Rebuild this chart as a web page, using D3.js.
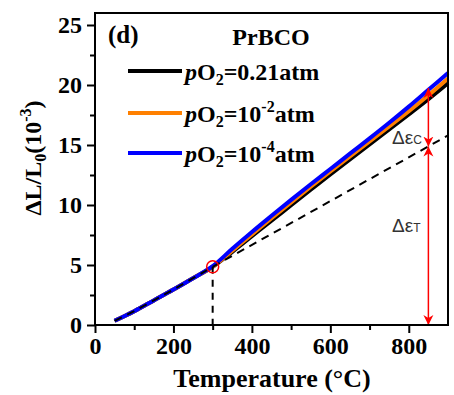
<!DOCTYPE html>
<html><head><meta charset="utf-8">
<script src="https://cdn.jsdelivr.net/npm/d3@7"></script>
<style>body{margin:0;background:#fff}svg{display:block}</style>
</head><body>
<script>
const temps = [50,100,150,200,250,300,350,400,450,500,550,600,650,700,750,800,850,900];
const black = [0.35,1.15,2.05,2.95,3.9,4.85,6.1,7.4,8.7,9.98,11.27,12.55,13.8,15.05,16.3,17.55,18.82,20.15];
const orange = [0.35,1.15,2.05,2.95,3.9,4.85,6.2,7.55,8.9,10.22,11.52,12.8,14.05,15.3,16.55,17.82,19.15,20.55];
const blue = [0.35,1.15,2.05,2.95,3.9,4.9,6.35,7.75,9.1,10.43,11.73,13.0,14.28,15.55,16.85,18.2,19.6,21.0];
const dashT = [50,100,150,200,250,300,900];
const dashV = [0.35,1.15,2.05,2.95,3.9,4.85,15.8];
const xTicks = [0,200,400,600,800];
const yTicks = [0,5,10,15,20,25];
const legendLabels = ["0.21", "10", "10"];
const legendSup = ["", "-2", "-4"];
const onsetT = 300, onsetV = 4.85;
const arrowT = 850, arrowTop = 19.75, arrowMid = 14.87;

const W = 454, H = 395;
const svg = d3.select("body").append("svg").attr("width", W).attr("height", H);
const x = d3.scaleLinear().domain([0,900]).range([95,448]);
const y = d3.scaleLinear().domain([0,26]).range([325,13]);
const serif = "'Liberation Serif','Times New Roman',serif";

const xAxis = d3.axisBottom(x).tickValues(xTicks).tickSize(8).tickPadding(4).tickFormat(d3.format("d"));
const xMinor = d3.axisBottom(x).tickValues([100,300,500,700]).tickSize(5).tickFormat("");
const yAxis = d3.axisLeft(y).tickValues(yTicks).tickSize(8).tickPadding(5).tickFormat(d3.format("d"));
const yMinor = d3.axisLeft(y).tickValues([2.5,7.5,12.5,17.5,22.5]).tickSize(5).tickFormat("");

function styleAxis(g){
  g.select(".domain").remove();
  g.selectAll("line").attr("stroke","#000").attr("stroke-width",2);
  g.selectAll("text").attr("font-family",serif).attr("font-weight","bold").attr("font-size",24).attr("fill","#000");
}
svg.append("g").attr("transform","translate(0,325)").call(xAxis).call(styleAxis);
svg.append("g").attr("transform","translate(0,325)").call(xMinor).call(styleAxis);
svg.append("g").attr("transform","translate(95,0)").call(yAxis).call(styleAxis);
svg.append("g").attr("transform","translate(95,0)").call(yMinor).call(styleAxis);

const line = d3.line().x(d=>x(d[0])).y(d=>y(d[1])).curve(d3.curveMonotoneX);
const straight = d3.line().x(d=>x(d[0])).y(d=>y(d[1]));
const series = [[black,"#000000"],[orange,"#ff8000"],[blue,"#0000ff"]];
series.forEach(([vals,col])=>{
  svg.append("path").datum(temps.map((t,i)=>[t,vals[i]]))
    .attr("d",line).attr("fill","none").attr("stroke",col).attr("stroke-width",4);
});
svg.append("path").datum(dashT.map((t,i)=>[t,dashV[i]]))
  .attr("d",straight).attr("fill","none").attr("stroke","#000").attr("stroke-width",2).attr("stroke-dasharray","8,6");
svg.append("line").attr("x1",x(onsetT)).attr("x2",x(onsetT)).attr("y1",y(onsetV)).attr("y2",y(0))
  .attr("stroke","#000").attr("stroke-width",2).attr("stroke-dasharray","7,6");
svg.append("circle").attr("cx",x(onsetT)).attr("cy",y(onsetV)).attr("r",6)
  .attr("fill","none").attr("stroke","#ff0000").attr("stroke-width",1.5);

const defs = svg.append("defs");
defs.append("marker").attr("id","ah").attr("viewBox","0 0 10 10").attr("refX",10).attr("refY",5)
  .attr("markerWidth",10).attr("markerHeight",12).attr("markerUnits","userSpaceOnUse").attr("orient","auto-start-reverse")
  .append("path").attr("d","M0,0 L10,5 L0,10 L3,5 Z").attr("fill","#ff0000");
function arrow(v1,v2){
  svg.append("line").attr("x1",x(arrowT)).attr("x2",x(arrowT)).attr("y1",y(v1)).attr("y2",y(v2))
    .attr("stroke","#ff0000").attr("stroke-width",1.5)
    .attr("marker-start","url(#ah)").attr("marker-end","url(#ah)");
}
arrow(arrowTop, arrowMid);
arrow(arrowMid, 0);
function epsLabel(px,py,sub){
  const t = svg.append("text").attr("x",px).attr("y",py).attr("font-family","'Liberation Sans',Arial,sans-serif")
    .attr("font-size",19).attr("fill","#333");
  t.append("tspan").text("Δε");
  t.append("tspan").attr("font-size",12).text(sub);
}
epsLabel(392,144,"C");
epsLabel(392,232,"T");

svg.append("rect").attr("x",95).attr("y",13).attr("width",353).attr("height",312)
  .attr("fill","none").attr("stroke","#000").attr("stroke-width",2);

svg.append("text").attr("x",108).attr("y",43).attr("font-family",serif).attr("font-weight","bold")
  .attr("font-size",25).text("(d)");
svg.append("text").attr("x",271).attr("y",45).attr("text-anchor","middle").attr("font-family",serif).attr("font-weight","bold")
  .attr("font-size",24).text("PrBCO");

const legY = [71,113,153];
series.forEach(([vals,col],i)=>{
  svg.append("line").attr("x1",128).attr("x2",182).attr("y1",legY[i]).attr("y2",legY[i])
    .attr("stroke",col).attr("stroke-width",4);
  const t = svg.append("text").attr("x",185).attr("y",legY[i]+9).attr("font-family",serif)
    .attr("font-weight","bold").attr("font-size",24).attr("fill","#000");
  t.append("tspan").attr("font-style","italic").text("p");
  t.append("tspan").text("O");
  t.append("tspan").attr("font-size",16).attr("dy",5).text("2");
  t.append("tspan").attr("dy",-5).text("=" + legendLabels[i]);
  if (legendSup[i]) {
    t.append("tspan").attr("font-size",16).attr("dy",-10).text(legendSup[i]);
    t.append("tspan").attr("dy",10).text("atm");
  } else {
    t.append("tspan").text("atm");
  }
});

svg.append("text").attr("x",272).attr("y",387).attr("text-anchor","middle").attr("font-family",serif)
  .attr("font-weight","bold").attr("font-size",26).text("Temperature (°C)");
const yt = svg.append("text").attr("transform","translate(41,158) rotate(-90)").attr("text-anchor","middle")
  .attr("font-family",serif).attr("font-weight","bold").attr("font-size",24);
yt.append("tspan").text("ΔL/L");
yt.append("tspan").attr("font-size",16).attr("dy",5).text("0");
yt.append("tspan").attr("dy",-5).text("(10");
yt.append("tspan").attr("font-size",16).attr("dy",-10).text("-3");
yt.append("tspan").attr("dy",10).text(")");
</script>
</body></html>
